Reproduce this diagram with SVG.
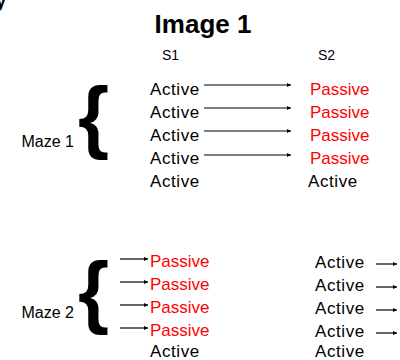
<svg xmlns="http://www.w3.org/2000/svg" width="400" height="360" viewBox="0 0 400 360">
<style>
text{font-family:"Liberation Sans",Arial,sans-serif;fill:#000}
.t{font-size:17px}
.p{fill:#ff0000}
.a{letter-spacing:0.6px}
.lbl{font-size:16px}
.hdr{font-size:14px}
.br{font-size:80px;font-weight:bold}
.c line{stroke:#000;stroke-width:1.2;marker-end:url(#ah)}
</style>
<defs>
<marker id="ah" viewBox="0 0 6 6" refX="6" refY="3" markerWidth="4" markerHeight="4" orient="auto" markerUnits="userSpaceOnUse">
<path d="M0,0 L6,3 L0,6 Z" fill="#000"/>
</marker>
</defs>
<rect width="400" height="360" fill="#fff"/>
<text x="-4" y="7" font-size="18" font-weight="bold">y</text>
<g id="title"><text x="203" y="33" font-size="26" font-weight="bold" text-anchor="middle">Image 1</text></g>
<g id="s1"><text class="hdr" x="162" y="60">S1</text></g>
<g id="s2"><text class="hdr" x="318" y="60">S2</text></g>

<g id="maze1">
<text class="lbl" x="74" y="147" text-anchor="end">Maze 1</text>
<text class="br" x="78" y="143">{</text>
</g>
<g id="maze1-s1">
<text class="t a" x="150" y="95">Active</text>
<text class="t a" x="150" y="118">Active</text>
<text class="t a" x="150" y="141">Active</text>
<text class="t a" x="150" y="164">Active</text>
<text class="t a" x="150" y="187">Active</text>
</g>
<g id="maze1-s2">
<text class="t p" x="310" y="95">Passive</text>
<text class="t p" x="310" y="118">Passive</text>
<text class="t p" x="310" y="141">Passive</text>
<text class="t p" x="310" y="164">Passive</text>
<text class="t a" x="308" y="187">Active</text>
</g>

<g id="maze2">
<text class="lbl" x="74" y="318" text-anchor="end">Maze 2</text>
<text class="br" x="78" y="318">{</text>
</g>
<g id="maze2-s1">
<text class="t p" x="150" y="267">Passive</text>
<text class="t p" x="150" y="290">Passive</text>
<text class="t p" x="150" y="313">Passive</text>
<text class="t p" x="150" y="336">Passive</text>
<text class="t a" x="150" y="357">Active</text>
</g>
<g id="maze2-s2">
<text class="t a" x="315" y="268">Active</text>
<text class="t a" x="315" y="291">Active</text>
<text class="t a" x="315" y="314">Active</text>
<text class="t a" x="315" y="337">Active</text>
<text class="t a" x="315" y="357">Active</text>
</g>

<g id="connectors" class="c">
<line x1="204" y1="85" x2="291" y2="85"/>
<line x1="204" y1="108" x2="291" y2="108"/>
<line x1="204" y1="131" x2="291" y2="131"/>
<line x1="204" y1="155" x2="291" y2="155"/>
<line x1="120" y1="259" x2="148" y2="259"/>
<line x1="120" y1="282" x2="148" y2="282"/>
<line x1="120" y1="305" x2="148" y2="305"/>
<line x1="120" y1="328" x2="148" y2="328"/>
<line x1="376" y1="264" x2="397" y2="264"/>
<line x1="376" y1="287" x2="397" y2="287"/>
<line x1="376" y1="310" x2="397" y2="310"/>
<line x1="376" y1="333" x2="397" y2="333"/>
</g>
</svg>
